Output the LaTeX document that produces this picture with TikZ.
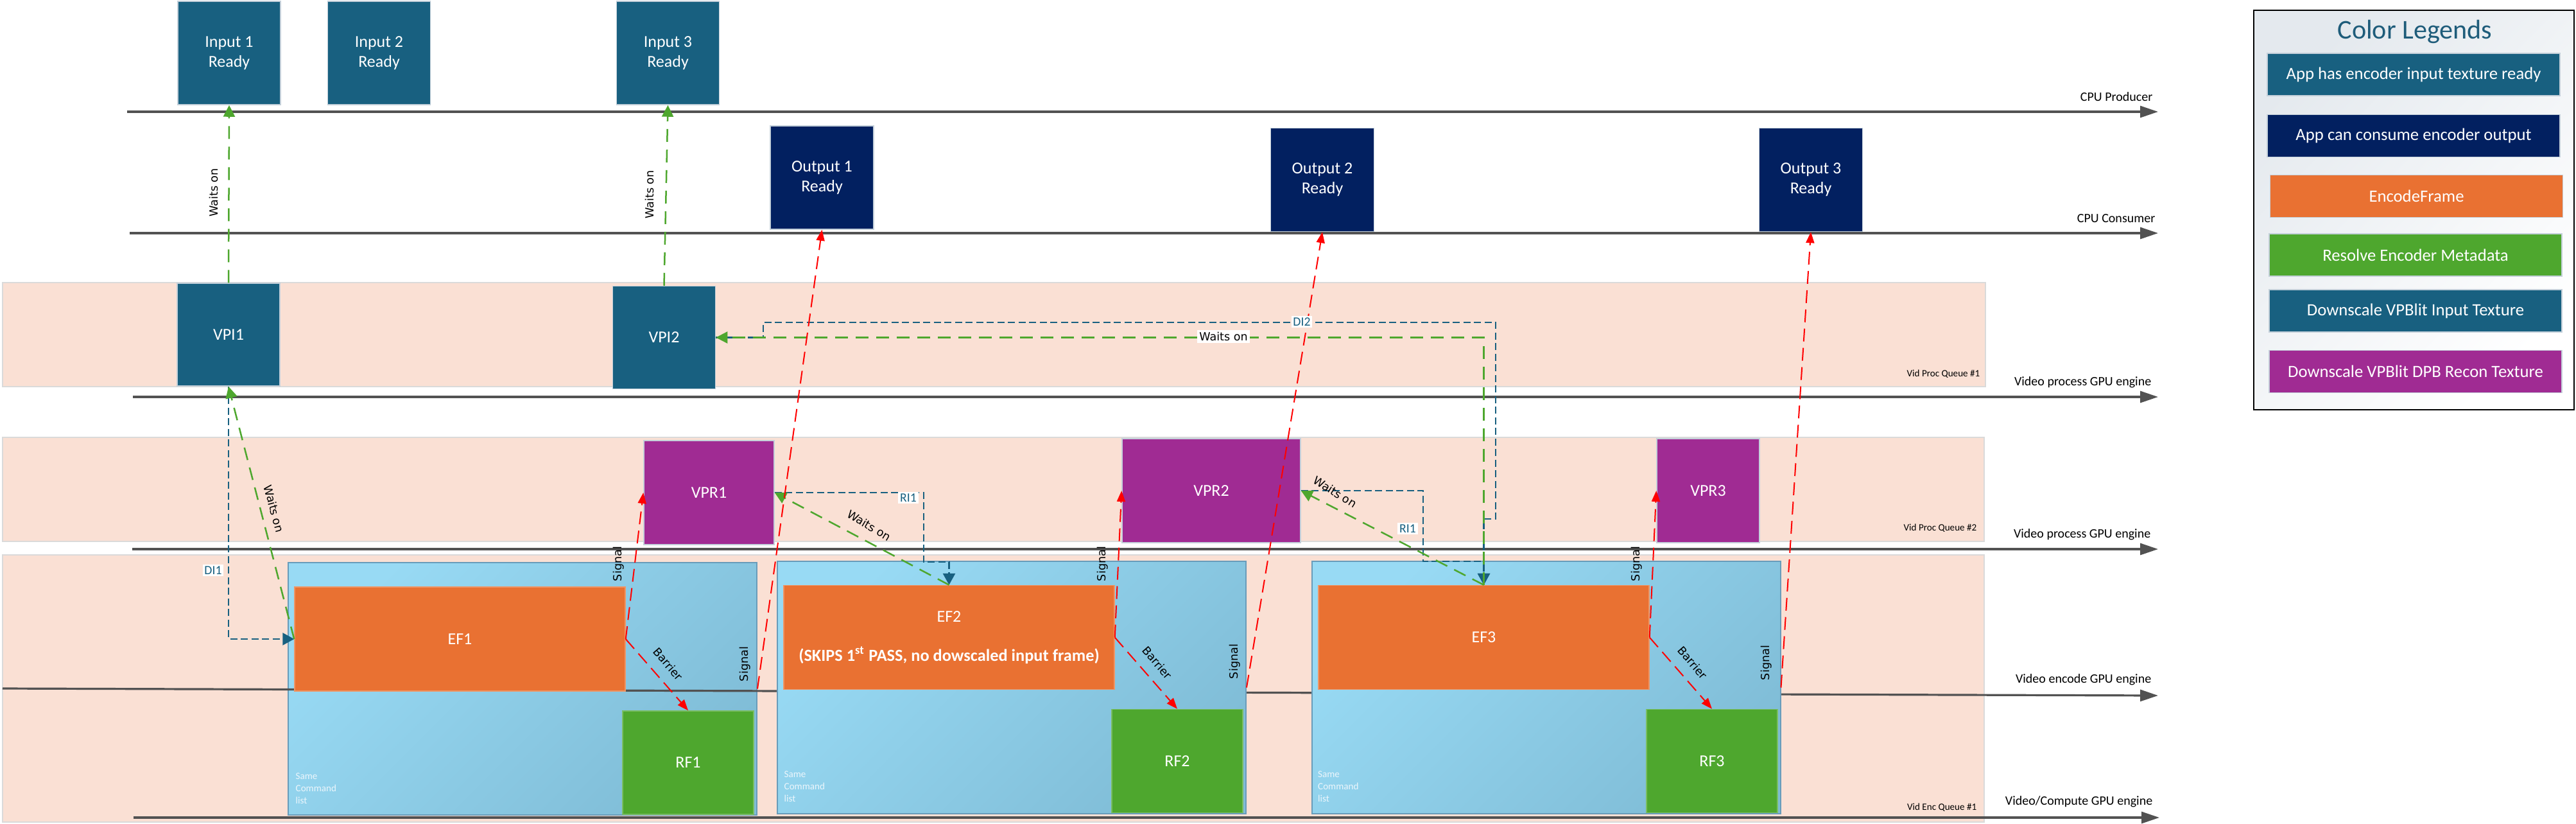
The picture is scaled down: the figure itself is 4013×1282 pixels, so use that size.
\documentclass[tikz,border=0pt]{standalone}
\usepackage{fontspec}
\setmainfont{Carlito}
\newfontfamily\dvfont{DejaVu Sans}
\usetikzlibrary{arrows.meta,calc}

\definecolor{cIn}{RGB}{24,96,128}
\definecolor{cOut}{RGB}{2,32,96}
\definecolor{cEF}{RGB}{233,113,50}
\definecolor{cRF}{RGB}{78,167,46}
\definecolor{cVPR}{RGB}{160,43,147}
\definecolor{cBand}{RGB}{250,224,212}
\definecolor{cBandEdge}{RGB}{218,218,218}
\definecolor{cListA}{RGB}{152,218,244}
\definecolor{cListB}{RGB}{128,189,215}
\definecolor{cListEdge}{RGB}{104,156,186}
\definecolor{cAxis}{RGB}{82,82,82}
\definecolor{cRed}{RGB}{255,0,0}
\definecolor{cGreen}{RGB}{78,167,46}
\definecolor{cBlue}{RGB}{24,96,128}
\definecolor{cEdge}{RGB}{196,208,218}
\definecolor{cTitle}{RGB}{30,92,122}
\definecolor{cLegBg}{RGB}{228,233,238}
\definecolor{cSame}{RGB}{236,246,252}

\tikzset{
  band/.style={fill=cBand, draw=cBandEdge, line width=0.2mm},
  axisline/.style={draw=cAxis, line width=0.32mm, -{Triangle[length=2.8mm,width=1.8mm]}},
  blk/.style={draw=cEdge, line width=0.15mm, text=white, align=center, inner sep=0pt,
    font=\fontsize{7.4}{8.8}\selectfont},
  inblk/.style={blk, fill=cIn, minimum width=16mm, minimum height=16.1mm},
  outblk/.style={blk, fill=cOut, minimum width=16.1mm, minimum height=16.1mm},
  vpiblk/.style={blk, fill=cIn, minimum width=16mm, minimum height=16mm},
  vprblk/.style={blk, fill=cVPR, minimum height=16.2mm},
  efblk/.style={blk, fill=cEF, draw=cEF!75!white, minimum width=51.5mm, minimum height=16.2mm},
  rfblk/.style={blk, fill=cRF, draw=cRF!75!white, minimum width=20.4mm, minimum height=16.1mm},
  listblk/.style={draw=cListEdge, line width=0.2mm, top color=cListA, bottom color=cListB,
    shading angle=45, minimum width=73mm, minimum height=39.3mm, inner sep=0pt},
  sig/.style={draw=cRed, line width=0.2mm, dash pattern=on 2mm off 1mm,
    -{Triangle[length=1.7mm,width=1.3mm]}},
  waits/.style={draw=cGreen, line width=0.25mm, dash pattern=on 2mm off 1.2mm,
    -{Triangle[length=1.8mm,width=1.8mm]}},
  di/.style={draw=cBlue, line width=0.28mm, dash pattern=on 1.1mm off 0.55mm,
    -{Triangle[length=1.8mm,width=1.9mm]}},
  vlbl/.style={font=\dvfont\fontsize{5}{6}\selectfont, inner sep=0.5pt, text=black},
  wlbl/.style={vlbl, fill=white, inner sep=1pt},
  tag/.style={font=\fontsize{5.6}{6.5}\selectfont, text=cBlue, fill=white, inner sep=0.8pt},
  axlbl/.style={font=\fontsize{5.7}{6.8}\selectfont, anchor=east, inner sep=0pt},
  qlbl/.style={font=\fontsize{4.3}{5}\selectfont, anchor=east, inner sep=0pt},
  same/.style={font=\fontsize{4.3}{5.4}\selectfont, text=cSame, align=left, anchor=west, inner sep=0pt},
  legitem/.style={blk, minimum width=45.6mm, minimum height=6.6mm, font=\fontsize{7.6}{9}\selectfont},
}

\begin{document}
\begin{tikzpicture}[x=0.1mm,y=-0.1mm]
\useasboundingbox (0,0) rectangle (4013,1282);

% ---- bands
\draw[band] (4,440) rectangle (3093,602);
\draw[band] (4,681) rectangle (3091,843);
\draw[band] (4,864) rectangle (3091,1280);

% ---- timelines
\draw[axisline] (198,174) -- (3362,174);
\draw[axisline] (202,363) -- (3362,363);
\draw[axisline] (207,618) -- (3362,618);
\draw[axisline] (206,855) -- (3362,855);
\draw[axisline] (208,1273) -- (3364,1273);

\node[axlbl] (tCP) at (3354,151) {CPU Producer};
\node[axlbl] (tCC) at (3358,340) {CPU Consumer};
\node[axlbl] (tVP1) at (3352,595) {Video process GPU engine};
\node[qlbl] (tQ1) at (3085,582) {Vid Proc Queue \#1};
\node[axlbl] (tVP2) at (3351,832) {Video process GPU engine};
\node[qlbl] (tQ2) at (3080,822) {Vid Proc Queue \#2};
\node[axlbl] (tVE) at (3352,1058) {Video encode GPU engine};
\node[qlbl] (tQ3) at (3080,1257) {Vid Enc Queue \#1};
\node[axlbl] (tVC) at (3354,1248) {Video/Compute GPU engine};

% ---- command lists
\node[listblk] (L1) at (814,1072.5) {};
\draw[axisline] (4,1072) -- (3362,1083);
\node[listblk] (L2) at (1576,1070.5) {};
\node[listblk] (L3) at (2408.5,1070.5) {};
\node[same] (S1) at ($(L1.south west)+(12,-42)$) {Same\\Command\\list};
\node[same] (S2) at ($(L2.south west)+(11,-43)$) {Same\\Command\\list};
\node[same] (S3) at ($(L3.south west)+(10,-43)$) {Same\\Command\\list};

% ---- blocks
\node[inblk] (In1) at (357,82.5) {Input 1\\Ready};
\node[inblk] (In2) at (590.5,82.5) {Input 2\\Ready};
\node[inblk] (In3) at (1040.5,82.5) {Input 3\\Ready};
\node[outblk] (Out1) at (1280.5,276.5) {Output 1\\Ready};
\node[outblk] (Out2) at (2060,280) {Output 2\\Ready};
\node[outblk] (Out3) at (2821,280) {Output 3\\Ready};
\node[vpiblk] (VPI1) at (356,521) {VPI1};
\node[vpiblk] (VPI2) at (1034.5,525.5) {VPI2};
\node[vprblk, minimum width=20.3mm] (VPR1) at (1104.5,767) {VPR1};
\node[vprblk, minimum width=27.8mm] (VPR2) at (1887,764) {VPR2};
\node[vprblk, minimum width=16mm] (VPR3) at (2661,764) {VPR3};
\node[efblk] (EF1) at (716.5,995) {EF1};
\node[efblk] (EF2) at (1478.5,992.5) {EF2\\[8.6pt]{\bfseries\fontsize{7.5}{8.8}\selectfont (SKIPS 1\textsuperscript{st} PASS, no dowscaled input frame)}};
\node[efblk] (EF3) at (2311.5,992.5) {EF3};
\node[rfblk] (RF1) at (1072,1187.5) {RF1};
\node[rfblk] (RF2) at (1834,1185) {RF2};
\node[rfblk] (RF3) at (2667,1185) {RF3};

% ---- data-input connectors (blue)
\draw[di] (VPI1.south) |- (EF1.west);
\draw[di] (VPR1.east) -| (1439,875) -| (EF2.north);
\draw[di] (VPR2.east) -| (2217,874) -| (EF3.north);
\draw[di] (VPI2.east) -| (1189,502) -- (2330,502) -- (2330,808) -- (EF3.north |- 0,808) -- (EF3.north);

% ---- waits on (green)
\draw[waits] (VPI1.north) -- (In1.south);
\draw[waits] (VPI2.north) -- (In3.south);
\draw[waits] (EF1.west) -- (VPI1.south);
\draw[waits] (EF2.north) -- (VPR1.east);
\draw[waits] (EF3.north) -- (VPR2.east);
\draw[waits] (EF3.north) -- (EF3.north |- 0,525.5) -- (VPI2.east);

% ---- signals / barriers (red)
\draw[sig] (EF1.east) -- (VPR1.west);
\draw[sig] (EF1.east) -- (RF1.north);
\draw[sig] (L1.east) -- (Out1.south);
\draw[sig] (EF2.east) -- (VPR2.west);
\draw[sig] (EF2.east) -- (RF2.north);
\draw[sig] (L2.east) -- (Out2.south);
\draw[sig] (EF3.east) -- (VPR3.west);
\draw[sig] (EF3.east) -- (RF3.north);
\draw[sig] (L3.east) -- (Out3.south);

% ---- labels
\node[vlbl, rotate=90] (wl0) at (333,300) {Waits on};
\node[vlbl, rotate=90] (wl3) at (1012,303) {Waits on};
\node[vlbl, rotate=-75] (wl1) at (427,792) {Waits on};
\node[vlbl, rotate=-31] (wl2) at (1354,818) {Waits on};
\node[vlbl, rotate=-32] (wl4) at (2080,766) {Waits on};
\node[wlbl] (wl5) at (1906,524) {Waits on};

\node[vlbl, rotate=90] (sg1a) at (964,878) {Signal};
\node[vlbl, rotate=90] (sg1b) at (1161,1034) {Signal};
\node[vlbl, rotate=90] (sg2a) at (1718,878) {Signal};
\node[vlbl, rotate=90] (sg2b) at (1924,1030) {Signal};
\node[vlbl, rotate=90] (sg3a) at (2550,878) {Signal};
\node[vlbl, rotate=90] (sg3b) at (2752,1032) {Signal};

\node[vlbl, rotate=-49] (br1) at (1041,1034) {Barrier};
\node[vlbl, rotate=-49] (br2) at (1803,1032) {Barrier};
\node[vlbl, rotate=-49] (br3) at (2637,1032) {Barrier};

\node[tag] (tgDI1) at (332,888) {DI1};
\node[tag] (tgRI1a) at (1415,775) {RI1};
\node[tag] (tgRI1b) at (2193,823) {RI1};
\node[tag] (tgDI2) at (2028,501) {DI2};

% ---- legend
\node[draw=black, line width=0.25mm, top color=cLegBg, bottom color=white, shading angle=45,
      minimum width=49.9mm, minimum height=62.2mm, inner sep=0pt] (Leg) at (3760.5,327) {};
\node[font=\fontsize{12}{14}\selectfont, text=cTitle, inner sep=0pt] (LegT) at (3762,49) {Color Legends};
\node[legitem, fill=cIn] (Lg1) at (3760,116) {App has encoder input texture ready};
\node[legitem, fill=cOut] (Lg2) at (3760,211.5) {App can consume encoder output};
\node[legitem, fill=cEF] (Lg3) at (3764.5,305.5) {EncodeFrame};
\node[legitem, fill=cRF] (Lg4) at (3763,397) {Resolve Encoder Metadata};
\node[legitem, fill=cIn] (Lg5) at (3763,484) {Downscale VPBlit Input Texture};
\node[legitem, fill=cVPR] (Lg6) at (3763,578.5) {Downscale VPBlit DPB Recon Texture};
\end{tikzpicture}
\end{document}
